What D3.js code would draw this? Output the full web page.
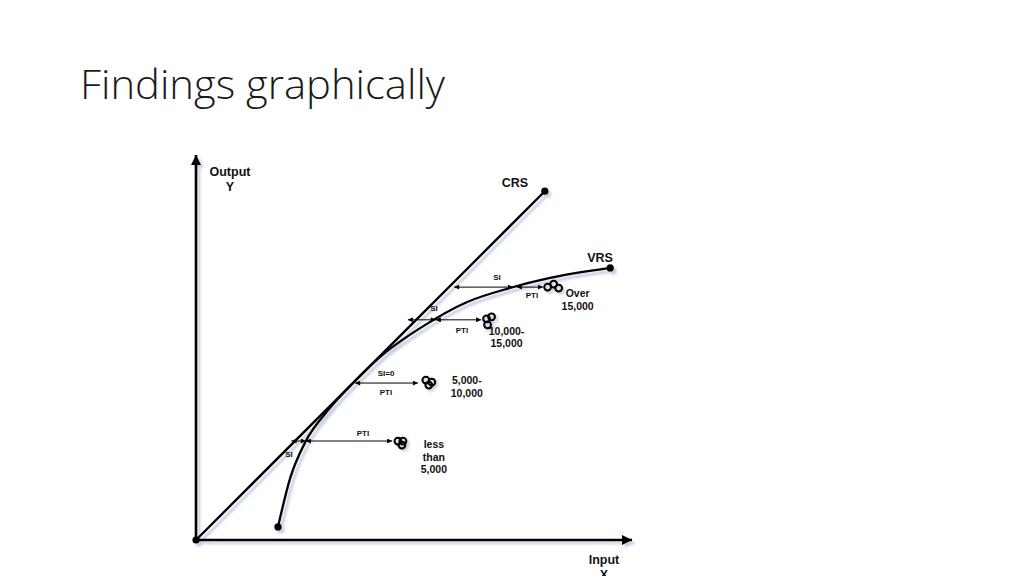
<!DOCTYPE html>
<html>
<head>
<meta charset="utf-8">
<script src="https://cdn.jsdelivr.net/npm/d3@7"></script>
<style>
  body { margin: 0; background: #fff; }
  svg { display: block; }
  .lbl { font-family: "Liberation Sans", Arial, sans-serif; font-weight: bold; fill: #111; }
</style>
</head>
<body>
<div id="viz"></div>
<script>
// ---- data (output vs input, arbitrary units) ----
var axisMax = [100, 88.3];                      // x end, y end of the axes
var crsLine = [[0, 0], [80, 80]];               // constant returns to scale
var vrsLine = [[18.8, 3.0], [21.6, 14.2], [25.2, 22.7], [30.3, 29.8], [36.0, 36.0],
               [43.3, 42.9], [51.4, 48.6], [62.2, 54.6], [72.0, 57.8], [81.2, 60.1], [95.0, 62.4]];

var groups   = ['less than 5,000', '5,000-10,000', '10,000-15,000', 'Over 15,000'];
var groupTxt = [['less', 'than', '5,000'], ['5,000-', '10,000'], ['10,000-', '15,000'], ['Over', '15,000']];
var rowY     = [22.7, 36.0, 50.5, 58.0];       // output level of each arrow row
var siFrom   = [21.9, null, 48.6, 59.2];       // CRS side of scale inefficiency
var siTo     = [25.2, null, 55.0, 72.7];       // VRS frontier
var ptiFrom  = [25.2, 36.5, 55.0, 73.6];
var ptiTo    = [45.0, 50.9, 65.4, 79.6];       // firm group
var siText   = ['SI', 'SI=0', 'SI', 'SI'];
var ptiText  = ['PTI', 'PTI', 'PTI', 'PTI'];

// ---- layout ----
var W = 1024, H = 576;
var shadowCol = '#c9d0e2';
var svg = d3.select('#viz').append('svg')
    .attr('width', W)
    .attr('height', H);

var x = d3.scaleLinear().domain([0, 100]).range([196, 632]);
var y = d3.scaleLinear().domain([0, 100]).range([540, 104]);

svg.append('text')
    .attr('x', 80).attr('y', 99)
    .attr('textLength', 365).attr('lengthAdjust', 'spacingAndGlyphs')
    .style('font-family', '"Open Sans", "Noto Sans", sans-serif')
    .style('font-weight', 300)
    .style('font-size', '40px')
    .style('fill', '#1a1a1a')
    .text('Findings graphically');

var defs = svg.append('defs');
defs.append('filter').attr('id', 'soft')
  .append('feGaussianBlur').attr('stdDeviation', 0.8);

function mk(id, w, h, color) {
    defs.append('marker')
        .attr('id', id)
        .attr('viewBox', '0 -5 10 10')
        .attr('refX', 10).attr('refY', 0)
        .attr('markerUnits', 'userSpaceOnUse')
        .attr('markerWidth', w).attr('markerHeight', h)
        .attr('orient', 'auto-start-reverse')
      .append('path')
        .attr('d', 'M0,-5L10,0L0,5Z')
        .style('fill', color);
}
mk('bigArrow', 12, 10, '#000');
mk('bigShadow', 12, 10, shadowCol);
mk('smallArrow', 6, 5, '#000');

var line = d3.line().x(function(d){ return x(d[0]); }).y(function(d){ return y(d[1]); });
var curve = d3.line().curve(d3.curveMonotoneX)
    .x(function(d){ return x(d[0]); }).y(function(d){ return y(d[1]); });

// draw the figure twice: shadow then ink
function figure(g, color, isShadow) {
    g.append('path')
        .attr('d', line([[0, 0], [axisMax[0], 0]]))
        .style('stroke', color).style('stroke-width', 2.6)
        .attr('marker-end', isShadow ? 'url(#bigShadow)' : 'url(#bigArrow)');
    g.append('path')
        .attr('d', line([[0, 0], [0, axisMax[1]]]))
        .style('stroke', color).style('stroke-width', 2.6)
        .attr('marker-end', isShadow ? 'url(#bigShadow)' : 'url(#bigArrow)');
    g.append('path')
        .attr('d', line(crsLine))
        .style('fill', 'none').style('stroke', color).style('stroke-width', isShadow ? 3 : 2.3);
    g.append('path')
        .attr('d', curve(vrsLine))
        .style('fill', 'none').style('stroke', color).style('stroke-width', isShadow ? 3 : 2.3);
    var ends = [[0, 0], crsLine[1], vrsLine[0], vrsLine[vrsLine.length - 1]];
    g.selectAll('circle.end').data(ends).enter().append('circle')
        .attr('class', 'end')
        .attr('cx', function(d){ return x(d[0]); })
        .attr('cy', function(d){ return y(d[1]); })
        .attr('r', 3.6)
        .style('fill', color);
}
figure(svg.append('g').attr('transform', 'translate(3,3)').attr('filter', 'url(#soft)'), shadowCol, true);
figure(svg.append('g'), '#000', false);

// arrows
var rows = svg.append('g');
rowY.forEach(function(r, i){
    var g = rows.append('g');
    if (siFrom[i] != null) {
        g.append('line')
            .attr('x1', x(siFrom[i])).attr('x2', x(siTo[i]))
            .attr('y1', y(r)).attr('y2', y(r))
            .style('stroke', '#000').style('stroke-width', 1)
            .attr('marker-start', 'url(#smallArrow)')
            .attr('marker-end', 'url(#smallArrow)');
    }
    g.append('line')
        .attr('x1', x(ptiFrom[i])).attr('x2', x(ptiTo[i]))
        .attr('y1', y(r)).attr('y2', y(r))
        .style('stroke', '#000').style('stroke-width', 1)
        .attr('marker-start', 'url(#smallArrow)')
        .attr('marker-end', 'url(#smallArrow)');
});

// SI / PTI labels  (x in px, dy relative to arrow row)
var siPos  = [[289, 16], [386, -7], [434, -9], [497, -7]];
var ptiPos = [[363, -5], [386, 12], [462, 13], [532, 11]];
rowY.forEach(function(r, i){
    rows.append('text').attr('class', 'lbl')
        .attr('x', siPos[i][0]).attr('y', y(r) + siPos[i][1])
        .attr('text-anchor', 'middle').style('font-size', '8px')
        .text(siText[i]);
    rows.append('text').attr('class', 'lbl')
        .attr('x', ptiPos[i][0]).attr('y', y(r) + ptiPos[i][1])
        .attr('text-anchor', 'middle').style('font-size', '8px')
        .text(ptiText[i]);
});

// firm group clusters (three rings each)
var ringOff = [
    [[-3, 0], [2, 0], [1, 4]],
    [[-3, -3], [3, -1], [0, 2]],
    [[-2, -1], [3, -3], [-1, 5]],
    [[-5, 0], [1, -3], [6, 1]]
];
var clusterX = [47.0, 53.4, 67.1, 81.8];
var labelOff = [[33, 7], [38, 1], [18, 15], [25, 10]];

[{dx: 2, dy: 2, c: shadowCol}, {dx: 0, dy: 0, c: '#000'}].forEach(function(s){
    var cg = svg.append('g').attr('transform', 'translate(' + s.dx + ',' + s.dy + ')');
    if (s.dx) cg.attr('filter', 'url(#soft)');
    clusterX.forEach(function(cx, i){
        cg.selectAll(null).data(ringOff[i]).enter().append('circle')
            .attr('cx', function(d){ return x(cx) + d[0]; })
            .attr('cy', function(d){ return y(rowY[i]) + d[1]; })
            .attr('r', 3.4)
            .style('fill', 'none')
            .style('stroke', s.c)
            .style('stroke-width', s.dx ? 2.6 : 2);
    });
});

groupTxt.forEach(function(lines, i){
    var t = svg.append('text').attr('class', 'lbl')
        .attr('text-anchor', 'middle')
        .style('font-size', '10.5px')
        .attr('x', x(clusterX[i]) + labelOff[i][0])
        .attr('y', y(rowY[i]) + labelOff[i][1]);
    t.selectAll('tspan').data(lines).enter().append('tspan')
        .attr('x', x(clusterX[i]) + labelOff[i][0])
        .attr('dy', function(d, k){ return k ? 12.5 : 0; })
        .text(function(d){ return d; });
});

// axis + curve names
var names = [
    {t: ['Output', 'Y'], x: 230, y: 176},
    {t: ['CRS'], x: 515, y: 187},
    {t: ['VRS'], x: 600, y: 262},
    {t: ['Input', 'X'], x: 604, y: 564}
];
names.forEach(function(n){
    var t = svg.append('text').attr('class', 'lbl')
        .attr('text-anchor', 'middle')
        .style('font-size', '12.5px')
        .attr('x', n.x).attr('y', n.y);
    t.selectAll('tspan').data(n.t).enter().append('tspan')
        .attr('x', n.x)
        .attr('dy', function(d, k){ return k ? 14.5 : 0; })
        .text(function(d){ return d; });
});
</script>
</body>
</html>
